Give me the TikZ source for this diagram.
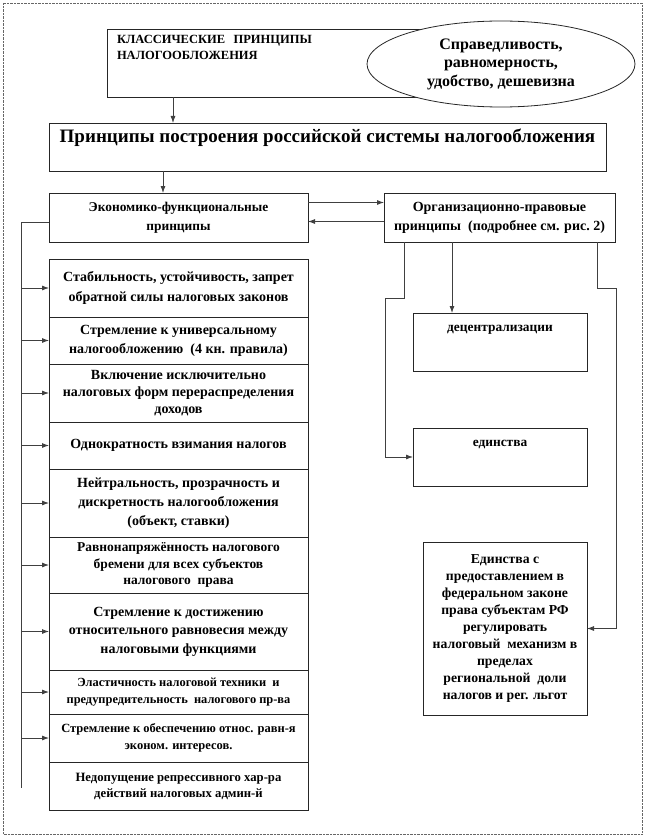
\documentclass[tikz,border=0pt]{standalone}
\usepackage{fontspec}
\setmainfont{Liberation Serif}
\usetikzlibrary{arrows.meta}
\usetikzlibrary{positioning}
\usetikzlibrary{shapes, shapes.geometric}

\begin{document}
\begin{tikzpicture}[x=1pt, y=-1pt,
  box/.style={rectangle, draw=black!85, line width=0.8pt, align=center, inner sep=2pt, outer sep=0pt, font=\bfseries\fontsize{14}{19}\selectfont},
  lbox/.style={box, minimum width=259pt},
  arr/.style={-{Latex[length=7pt, width=5pt]}, line width=0.8pt, draw=black!75},
  link/.style={line width=0.8pt, draw=black!75}]

\useasboundingbox (0,0) rectangle (645,837);
\draw[densely dotted, black!60] (3,3) rectangle (642,834);

\node[box, anchor=north west, align=left, text width=393pt, inner xsep=10pt, inner ysep=6pt, text depth=48pt, font=\bfseries\fontsize{12.5}{16}\selectfont] (classic) at (107,29) {КЛАССИЧЕСКИЕ~~ПРИНЦИПЫ\\НАЛОГООБЛОЖЕНИЯ};
\node[ellipse, draw=black!85, line width=0.8pt, fill=white, minimum width=268pt, minimum height=86pt, inner sep=0pt, align=center, font=\bfseries\fontsize{16}{18.5}\selectfont] (ideal) at (501,64) {Справедливость,\\равномерность,\\удобство, дешевизна};
\node[box, anchor=north west, minimum width=557pt, inner ysep=4pt, text height=16pt, text depth=24pt, font=\bfseries\fontsize{19}{21}\selectfont] (main) at (49,123) {Принципы построения российской системы налогообложения};

\node[box, anchor=north west, minimum width=259pt, minimum height=49pt, font=\bfseries\fontsize{13.4}{19}\selectfont] (econ) at (49,193) {Экономико-функциональные\\принципы};
\node[box, anchor=north west, minimum width=231pt, minimum height=49pt, font=\bfseries\fontsize{14}{19}\selectfont] (org) at (384,193) {Организационно-правовые\\принципы~~(подробнее см. рис.~2)};

% economic-functional list
\node[lbox, anchor=north west, minimum height=58pt, font=\bfseries\fontsize{14}{20}\selectfont] (l1) at (49,259) {Стабильность, устойчивость, запрет\\обратной силы налоговых законов};
\node[lbox, minimum height=47pt, below=0pt of l1] (l2) {Стремление к универсальному\\налогообложению~~(4 кн. правила)};
\node[lbox, minimum height=58pt, below=0pt of l2, font=\bfseries\fontsize{14}{17}\selectfont] (l3) {Включение исключительно\\налоговых форм перераспределения\\доходов};
\node[lbox, minimum height=47pt, below=0pt of l3] (l4) {Однократность взимания налогов};
\node[lbox, minimum height=68pt, below=0pt of l4] (l5) {Нейтральность, прозрачность и\\дискретность налогообложения\\(объект, ставки)};
\node[lbox, minimum height=56pt, below=0pt of l5, font=\bfseries\fontsize{13.5}{16.5}\selectfont] (l6) {Равнонапряжённость налогового\\бремени для всех субъектов\\налогового~~права};
\node[lbox, minimum height=77pt, below=0pt of l6, font=\bfseries\fontsize{14}{18.5}\selectfont] (l7) {Стремление к достижению\\относительного равновесия между\\налоговыми функциями};
\node[lbox, minimum height=44pt, below=0pt of l7, font=\bfseries\fontsize{12.4}{17}\selectfont] (l8) {Эластичность налоговой техники~~и\\предупредительность~~налогового пр-ва};
\node[lbox, minimum height=48pt, below=0pt of l8, font=\bfseries\fontsize{12.5}{17}\selectfont] (l9) {Стремление к обеспечению относ. равн-я\\эконом. интересов.};
\node[lbox, minimum height=48pt, below=0pt of l9, font=\bfseries\fontsize{12.7}{16}\selectfont] (l10) {Недопущение репрессивного хар-ра\\действий налоговых админ-й};

% organisational-legal list
\node[box, anchor=north west, minimum width=174pt, inner ysep=4pt, text height=14pt, text depth=36pt, font=\bfseries\fontsize{13.4}{17}\selectfont] (decentr) at (413,313) {децентрализации};
\node[box, anchor=north west, minimum width=174pt, inner ysep=4pt, text height=14pt, text depth=36pt, font=\bfseries\fontsize{13.4}{17}\selectfont] (unity) at (413,428) {единства};
\node[box, anchor=north west, minimum width=164pt, minimum height=173pt, font=\bfseries\fontsize{13.7}{17}\selectfont] (fed) at (423,542) {Единства с\\предоставлением в\\федеральном законе\\права субъектам РФ\\регулировать\\налоговый~~механизм в\\пределах\\региональной~~доли\\налогов и рег. льгот};

\coordinate (c1) at ([xshift=66pt]classic.south west);
\coordinate (m1) at ([xshift=114pt]main.south west);
\draw[arr] (c1) -- (c1 |- main.north);
\draw[arr] (m1) -- (m1 |- econ.north);

\coordinate (e1) at ([yshift=15pt]econ.east);
\coordinate (e2) at ([yshift=-4pt]econ.east);
\draw[arr] (e1) -- (e1 -| org.west);
\draw[arr] (e2 -| org.west) -- (e2);

\coordinate (bus) at (21,222);
\coordinate (busend) at (21,788);
\draw[link] (econ.west |- bus) -- (bus) -- (busend);
\draw[arr] (bus |- l1.west) -- (l1.west);
\draw[arr] (bus |- l2.west) -- (l2.west);
\draw[arr] (bus |- l3.west) -- (l3.west);
\draw[arr] (bus |- l4.west) -- (l4.west);
\draw[arr] (bus |- l5.west) -- (l5.west);
\draw[arr] (bus |- l6.west) -- (l6.west);
\draw[arr] (bus |- l7.west) -- (l7.west);
\draw[arr] (bus |- l8.west) -- (l8.west);
\draw[arr] (bus |- l9.west) -- (l9.west);

\coordinate (oleft) at ([xshift=20pt]org.south west);
\coordinate (omid) at ([xshift=68pt]org.south west);
\coordinate (oright) at ([xshift=-18pt]org.south east);
\coordinate (jl) at (385,298);
\coordinate (jr) at (616,288);
\draw[arr] (oleft) |- (jl) |- (unity.west);
\draw[arr] (omid) -- (omid |- decentr.north);
\draw[arr] (oright) |- (jr) |- (fed.east);

\end{tikzpicture}
\end{document}
